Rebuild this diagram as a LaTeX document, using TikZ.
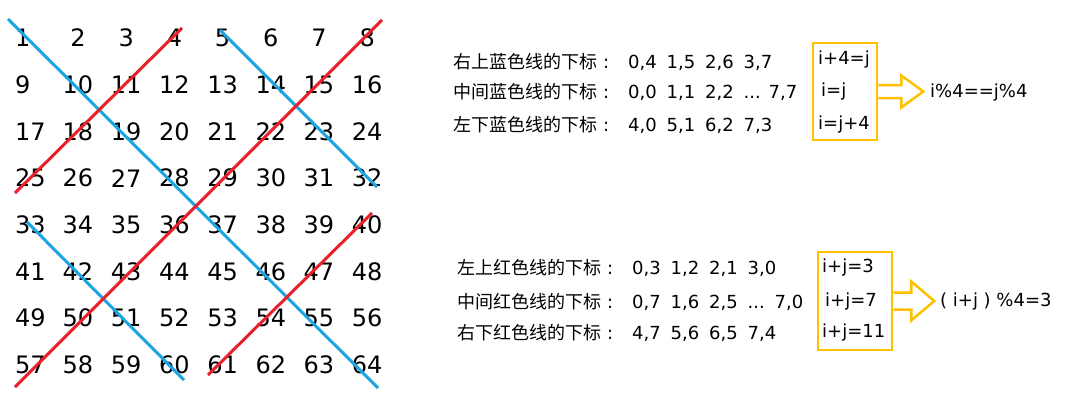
\documentclass[tikz,border=0pt]{standalone}
\usepackage{fontspec}
\setmainfont{DejaVu Sans}
\newfontfamily\cjk{Noto Sans CJK SC}
\usetikzlibrary{calc}
\definecolor{lineblue}{RGB}{28,165,224}
\definecolor{linered}{RGB}{232,32,42}
\definecolor{boxgold}{RGB}{255,192,0}
\newcommand{\idx}[1]{\makebox[38.5pt][l]{#1}}
\newcommand{\lbl}[1]{\makebox[175pt][l]{{\cjk #1}\makebox[18pt][c]{:}}}
\newcommand{\gap}[1]{\makebox[#1][l]{...}}

\begin{document}
\begin{tikzpicture}[x=1pt, y=-1pt,
    num/.style={inner sep=0pt, font=\fontsize{24}{24}\selectfont},
    bluediag/.style={lineblue, line width=3pt},
    reddiag/.style={linered, line width=3pt},
    note/.style={anchor=west, inner sep=0pt, font=\fontsize{18}{18}\selectfont},
    goldbox/.style={draw=boxgold, line width=2.5pt},
    goldarrow/.style={draw=boxgold, line width=2.5pt, line join=miter}]
    \useasboundingbox (0,0) rectangle (1072,402);

    % number grid
    \foreach \r in {0,...,7}{
        \foreach \c in {0,...,7}{
            \pgfmathtruncatemacro{\n}{8*\r+\c+1}
            \ifnum\c=0
                \node[num, anchor=west] (n\n) at (15, 38+46.7*\r) {\n};
            \else
                \node[num] (n\n) at (78+48.2*\c-48.2, 38+46.7*\r) {\n};
            \fi
        }
    }

    % diagonals
    \coordinate (b1s) at (8,19);    \coordinate (b1e) at (378,388);
    \coordinate (b2s) at (220,30);  \coordinate (b2e) at (377,187);
    \coordinate (b3s) at (27,222);  \coordinate (b3e) at (184,380);
    \coordinate (r1s) at (182,28);  \coordinate (r1e) at (15,193);
    \coordinate (r2s) at (382,20);  \coordinate (r2e) at (15,387);
    \coordinate (r3s) at (372,213); \coordinate (r3e) at (208,375);

    \draw[bluediag] (b1s) -- (b1e);
    \draw[bluediag] (b2s) -- (b2e);
    \draw[bluediag] (b3s) -- (b3e);
    \draw[reddiag] (r1s) -- (r1e);
    \draw[reddiag] (r2s) -- (r2e);
    \draw[reddiag] (r3s) -- (r3e);

    % blue index notes
    \node[note] (bluetop) at (453,62) {\lbl{右上蓝色线的下标}\idx{0,4}\idx{1,5}\idx{2,6}3,7};
    \node[note] (bluemid) at (453,92) {\lbl{中间蓝色线的下标}\idx{0,0}\idx{1,1}\idx{2,2}\gap{25pt}7,7};
    \node[note] (bluelow) at (453,125) {\lbl{左下蓝色线的下标}\idx{4,0}\idx{5,1}\idx{6,2}7,3};

    \node[goldbox, minimum width=64pt, minimum height=97pt] (bluebox) at (845,91.5) {};
    \node[note] (bluerule1) at (818,60) {i+4=j};
    \node[note] (bluerule2) at (821,92) {i=j};
    \node[note] (bluerule3) at (818,125) {i=j+4};

    \draw[goldarrow] ($(bluebox.east)+(0,-6.5)$) -- ++(23,0) -- ++(0,-9.5)
        -- ++(22,16) -- ++(-22,16) -- ++(0,-9.5) -- ++(-23,0);
    \node[note] (bluemod) at (930,93) {i\%4==j\%4};

    % red index notes
    \node[note] (redtop) at (457,268) {\lbl{左上红色线的下标}\idx{0,3}\idx{1,2}\idx{2,1}3,0};
    \node[note] (redmid) at (457,302) {\lbl{中间红色线的下标}\idx{0,7}\idx{1,6}\idx{2,5}\gap{27pt}7,0};
    \node[note] (redlow) at (457,333) {\lbl{右下红色线的下标}\idx{4,7}\idx{5,6}\idx{6,5}7,4};

    \node[goldbox, minimum width=74pt, minimum height=98pt] (redbox) at (855,301) {};
    \node[note] (redrule1) at (822,268) {i+j=3};
    \node[note] (redrule2) at (825,302) {i+j=7};
    \node[note] (redrule3) at (822,333) {i+j=11};

    \draw[goldarrow] ($(redbox.east)+(0,-8.5)$) -- ++(18,0) -- ++(0,-11)
        -- ++(23,19.5) -- ++(-23,19.5) -- ++(0,-11) -- ++(-18,0);
    \node[note] (redmod) at (940,302) {( i+j ) \%4=3};
\end{tikzpicture}
\end{document}
